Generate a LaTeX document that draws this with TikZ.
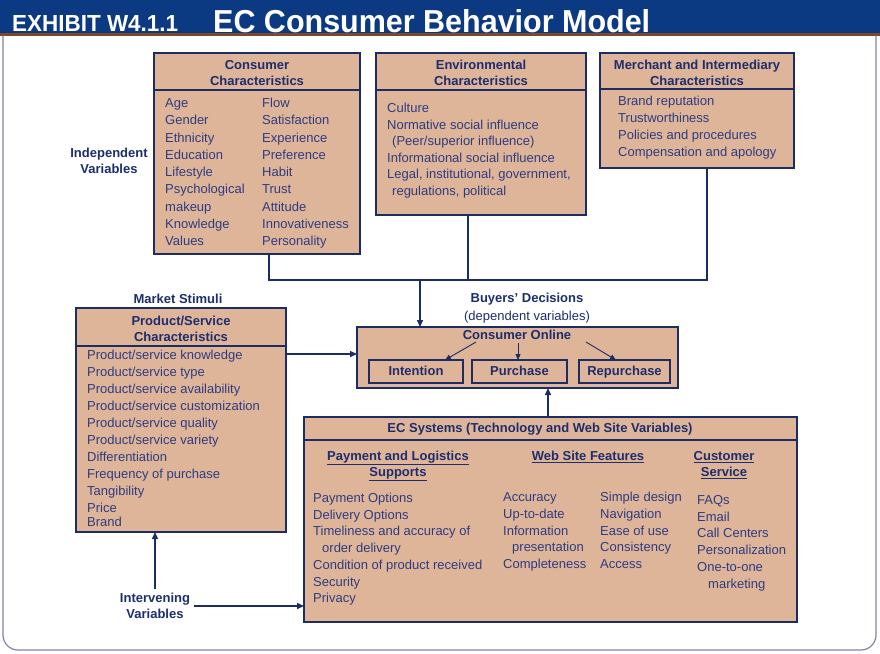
\documentclass[tikz,border=0pt]{standalone}
\usepackage{graphicx}
\usepackage{fontspec}
\setmainfont{Liberation Sans}
\usetikzlibrary{arrows.meta,calc}
\definecolor{hdr}{RGB}{12,58,130}
\definecolor{brn}{RGB}{125,72,40}
\definecolor{tanfill}{RGB}{222,181,152}
\definecolor{edge}{RGB}{27,45,100}
\definecolor{txt}{RGB}{45,60,130}
\definecolor{ttl}{RGB}{30,45,110}
\definecolor{frm}{RGB}{130,130,175}
\begin{document}
\begin{tikzpicture}[x=1pt,y=-1pt,
  box/.style={draw=edge,fill=tanfill,line width=1.8pt,anchor=north west,inner sep=0pt,outer sep=0pt},
  subbox/.style={draw=edge,line width=1.4pt,anchor=north west,inner sep=0pt,outer sep=0pt},
  sep/.style={draw=edge,line width=1.4pt},
  conn/.style={draw=edge,line width=1.4pt},
  arr/.style={draw=edge,line width=1.4pt,-{Triangle[length=7pt,width=6pt]}},
  sarr/.style={draw=edge,line width=0.9pt,-{Triangle[length=6pt,width=5pt]}},
  itm/.style={anchor=base west,inner sep=0pt,text=txt,align=left},
  ttlsty/.style={anchor=base,inner sep=0pt,text=ttl,align=center,font=\bfseries\fontsize{13}{16}\selectfont},
]
\useasboundingbox (0,0) rectangle (880,653);
\fill[white] (0,0) rectangle (880,653);
\fill[hdr] (0,0) rectangle (880,33);
\fill[brn] (0,33) rectangle (880,35.5);
\draw[frm,line width=1.2pt,rounded corners=15pt] (3,35.5) -- (3,650) -- (876,650) -- (876,35.5);
\node[anchor=base west,inner sep=0pt,text=white,font=\bfseries] (ex) at (12,31) {\resizebox{166pt}{16pt}{EXHIBIT W4.1.1}};
\node[anchor=base west,inner sep=0pt,text=white,font=\bfseries] (title) at (213,32) {\resizebox{437pt}{23pt}{EC Consumer Behavior Model}};

% boxes
\node[box,minimum width=206pt,minimum height=201pt] (cons) at (154,53) {};
\node[box,minimum width=210pt,minimum height=162pt] (env) at (376,53) {};
\node[box,minimum width=194pt,minimum height=115pt] (merch) at (600,53) {};
\node[box,minimum width=210pt,minimum height=224pt] (prod) at (76,308) {};
\node[box,minimum width=321pt,minimum height=61pt] (online) at (357,327) {};
\node[subbox,minimum width=94pt,minimum height=23pt] (int) at (369,360) {};
\node[subbox,minimum width=95pt,minimum height=23pt] (pur) at (472,360) {};
\node[subbox,minimum width=91pt,minimum height=23pt] (rep) at (579,360) {};
\node[box,minimum width=493pt,minimum height=205pt] (ec) at (304,417) {};

\draw[sep] (154,90) -- (360,90);
\draw[sep] (376,90) -- (586,90);
\draw[sep] (600,89) -- (794,89);
\draw[sep] (76,346) -- (286,346);
\draw[sep] (304,440) -- (797,440);

% titles (anchor = baseline of the last line)
\node[ttlsty] (consT) at (257,85.5) {Consumer\\Characteristics};
\node[ttlsty] (envT) at (481,85.5) {Environmental\\Characteristics};
\node[ttlsty] (merchT) at (697,85.5) {Merchant and Intermediary\\Characteristics};
\node[ttlsty] (prodT) at (181,341.5) {Product/Service\\Characteristics};
\node[ttlsty] (ms) at (178,303.5) {Market Stimuli};
\node[ttlsty] (bd) at (527,302.5) {Buyers' Decisions};
\node[ttlsty,font=\fontsize{13}{16}\selectfont] (dv) at (527,320.5) {(dependent variables)};
\node[ttlsty] (co) at (517,339.5) {Consumer Online};
\node[ttlsty] (intT) at (416,375.5) {Intention};
\node[ttlsty] (purT) at (519.5,375.5) {Purchase};
\node[ttlsty] (repT) at (624.5,375.5) {Repurchase};
\node[ttlsty] (ecT) at (540,432) {EC Systems (Technology and Web Site Variables)};
\node[ttlsty] (payH) at (398,476.5) {\underline{Payment and Logistics}\\\underline{Supports}};
\node[ttlsty] (webH) at (588,460.5) {\underline{Web Site Features}};
\node[ttlsty] (custH) at (724,476.5) {\underline{Customer}\\\underline{Service}};
\node[ttlsty] (indep) at (109,173.5) {Independent\\Variables};
\node[ttlsty,inner sep=4pt] (iv) at (155,618.5) {Intervening\\Variables};

% items (anchor = baseline of the last line)
\node[itm,font=\fontsize{13}{17.25}\selectfont] (consL) at (165,245.5) {Age\\Gender\\Ethnicity\\Education\\Lifestyle\\Psychological\\makeup\\Knowledge\\Values};
\node[itm,font=\fontsize{13}{17.25}\selectfont] (consR) at (262,245.5) {Flow\\Satisfaction\\Experience\\Preference\\Habit\\Trust\\Attitude\\Innovativeness\\Personality};
\node[itm,font=\fontsize{13}{16.6}\selectfont] (envL) at (387,195.5) {Culture\\Normative social influence\\\hspace*{5pt}(Peer/superior influence)\\Informational social influence\\Legal, institutional, government,\\\hspace*{5pt}regulations, political};
\node[itm,font=\fontsize{13}{17}\selectfont] (merchL) at (618,156.5) {Brand reputation\\Trustworthiness\\Policies and procedures\\Compensation and apology};
\node[itm,font=\fontsize{13}{17}\selectfont] (prodL) at (87,512.5) {Product/service knowledge\\Product/service type\\Product/service availability\\Product/service customization\\Product/service quality\\Product/service variety\\Differentiation\\Frequency of purchase\\Tangibility\\Price};
\node[itm,font=\fontsize{13}{17}\selectfont] (prodB) at (87,526.5) {Brand};
\node[itm,font=\fontsize{13}{16.7}\selectfont] (payL) at (313,602.7) {Payment Options\\Delivery Options\\Timeliness and accuracy of\\\hspace*{9pt}order delivery\\Condition of product received\\Security\\Privacy};
\node[itm,font=\fontsize{13}{16.75}\selectfont] (webL) at (503,568.5) {Accuracy\\Up-to-date\\Information\\\hspace*{9pt}presentation\\Completeness};
\node[itm,font=\fontsize{13}{16.75}\selectfont] (webR) at (600,568.5) {Simple design\\Navigation\\Ease of use\\Consistency\\Access};
\node[itm,font=\fontsize{13}{16.7}\selectfont] (custL) at (697,588) {FAQs\\Email\\Call Centers\\Personalization\\One-to-one\\\hspace*{11pt}marketing};

% connectors
\coordinate (jc) at (269,280);
\coordinate (je) at (468,280);
\coordinate (jm) at (707,280);
\coordinate (ja) at (420,280);
\draw[conn] (cons.south -| jc) -- (jc) -- (jm) -- (merch.south -| jm);
\draw[conn] (env.south -| je) -- (je);
\draw[arr] (ja) -- (online.north -| ja);
\coordinate (pa) at (300,354);
\draw[arr] (prod.east |- pa) -- (online.west |- pa);
\coordinate (ea) at (548,400);
\draw[arr] (ec.north -| ea) -- (online.south -| ea);
\draw[arr] (iv.north) -- (prod.south -| iv.north);
\coordinate (ir) at (250,606);
\draw[arr] (iv.east |- ir) -- (ec.west |- ir);

% inner arrows
\coordinate (c1) at (476,342);
\coordinate (c2) at (518,343);
\coordinate (c3) at (586,342);
\coordinate (t1) at (445,360);
\coordinate (t3) at (616,360);
\draw[sarr] (c1) -- (t1);
\draw[sarr] (c2) -- (pur.north -| c2);
\draw[sarr] (c3) -- (t3);
\end{tikzpicture}
\end{document}
